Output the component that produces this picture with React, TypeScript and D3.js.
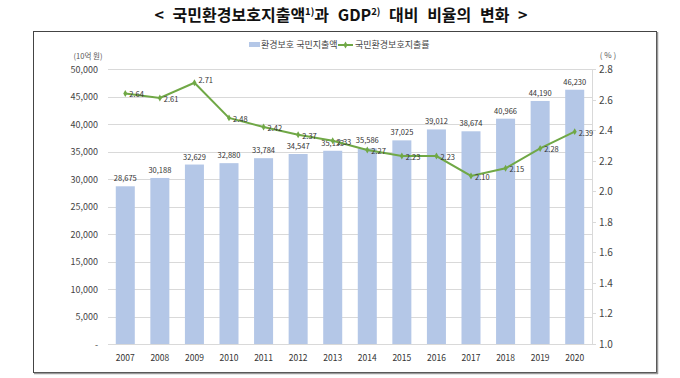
import React from "react";
import * as d3 from "d3";

const years = ["2007","2008","2009","2010","2011","2012","2013","2014","2015","2016","2017","2018","2019","2020"];
const spending = [28675, 30188, 32629, 32880, 33784, 34547, 35133, 35586, 37025, 39012, 38674, 40966, 44190, 46230];
const ratio = [2.64, 2.61, 2.71, 2.48, 2.42, 2.37, 2.33, 2.27, 2.23, 2.23, 2.10, 2.15, 2.28, 2.39];
const leftTicks = [0, 5000, 10000, 15000, 20000, 25000, 30000, 35000, 40000, 45000, 50000];
const rightTicks = [1.0, 1.2, 1.4, 1.6, 1.8, 2.0, 2.2, 2.4, 2.6, 2.8];

const W = 680, H = 378;
const FONT = "'Noto Sans CJK KR', 'Noto Sans', sans-serif";
const BAR = "#b4c7e7";
const LINE = "#70a846";

export default function App() {
  const plotL = 108, plotR = 592, plotT = 69, plotB = 344;
  const x = d3.scaleBand<string>().domain(years).range([plotL, plotR]).paddingInner(0.45).paddingOuter(0.225);
  const yL = d3.scaleLinear().domain([0, 50000]).range([plotB, plotT]);
  const yR = d3.scaleLinear().domain([1.0, 2.8]).range([plotB, plotT]);
  const fmt = d3.format(",");
  const cx = (y: string) => (x(y) as number) + x.bandwidth() / 2;
  const lineGen = d3.line<number>().x((_, i) => cx(years[i])).y(d => yR(d));

  return (
    <div style={{ position: "fixed", left: 0, top: 0, width: W, height: H, background: "#fff" }}>
      <svg width={W} height={H} style={{ display: "block", fontFamily: FONT }}>
        <rect x={0} y={0} width={W} height={H} fill="#fff" />
        {/* title */}
        <text x={341} y={21} textAnchor="middle" fontSize={16} fontWeight={700} fill="#111" wordSpacing={5}>
          {"<  국민환경보호지출액"}
          <tspan fontSize={9.5} dy={-6}>1)</tspan>
          <tspan dy={6}>과 GDP</tspan>
          <tspan fontSize={9.5} dy={-6}>2)</tspan>
          <tspan dy={6}>{" 대비 비율의 변화  >"}</tspan>
        </text>
        {/* frame */}
        <rect x={33.5} y={31.5} width={623} height={341} fill="none" stroke="#444" strokeWidth={1} />
        <line x1={657.5} y1={32} x2={657.5} y2={374} stroke="#999" strokeWidth={1.5} />
        <line x1={34} y1={373.5} x2={658} y2={373.5} stroke="#999" strokeWidth={1.5} />

        {/* legend */}
        <rect x={249} y={42} width={11} height={5} fill={BAR} />
        <text x={261} y={48} fontSize={9} fill="#444">환경보호 국민지출액</text>
        <line x1={338} y1={45} x2={353} y2={45} stroke={LINE} strokeWidth={2} />
        <path d={d3.symbol(d3.symbolDiamond, 14)() as string} transform="translate(345.5,45)" fill={LINE} />
        <text x={355} y={48} fontSize={9} fill="#444">국민환경보호지출률</text>

        {/* units */}
        <text x={88} y={59} textAnchor="middle" fontSize={7.5} fill="#555">(10억 원)</text>
        <text x={608} y={58} textAnchor="middle" fontSize={8} fill="#555">( % )</text>

        {/* gridlines */}
        {leftTicks.map(t => (
          <line key={t} x1={plotL} x2={plotR} y1={Math.round(yL(t)) + 0.5} y2={Math.round(yL(t)) + 0.5} stroke="#d9d9d9" strokeWidth={1} />
        ))}
        {/* right axis line */}
        <line x1={plotR + 0.5} x2={plotR + 0.5} y1={plotT} y2={plotB} stroke="#d9d9d9" />
        {rightTicks.map(t => (
          <g key={t}>
            <line x1={plotR} x2={plotR + 4} y1={Math.round(yR(t)) + 0.5} y2={Math.round(yR(t)) + 0.5} stroke="#d9d9d9" />
            <text x={plotR + 7} y={yR(t) + 4} fontSize={10} fill="#444">{t.toFixed(1)}</text>
          </g>
        ))}
        {/* left axis labels */}
        {leftTicks.map(t => (
          <text key={t} x={98} y={yL(t) + 3.5} textAnchor="end" fontSize={9} fill="#444">{t === 0 ? "-" : fmt(t)}</text>
        ))}
        {/* bars */}
        {spending.map((v, i) => (
          <rect key={years[i]} x={x(years[i])} y={yL(v)} width={x.bandwidth()} height={plotB - yL(v)} fill={BAR} />
        ))}
        {spending.map((v, i) => (
          <text key={"bl" + i} x={cx(years[i])} y={yL(v) - 5} textAnchor="middle" fontSize={7.5} fill="#333">{fmt(v)}</text>
        ))}
        {/* x labels */}
        {years.map(y => (
          <text key={y} x={cx(y)} y={361} textAnchor="middle" fontSize={8.5} fill="#333">{y}</text>
        ))}
        {/* line */}
        <path d={lineGen(ratio) as string} fill="none" stroke={LINE} strokeWidth={2} />
        {ratio.map((v, i) => (
          <path key={"m" + i} d={d3.symbol(d3.symbolDiamond, 14)() as string} transform={`translate(${cx(years[i])},${yR(v)})`} fill={LINE} />
        ))}
        {ratio.map((v, i) => (
          <text key={"ll" + i} x={cx(years[i]) + 4} y={yR(v) + (i === 2 ? 0 : 4)} fontSize={7.5} fill="#333">{v.toFixed(2)}</text>
        ))}
      </svg>
    </div>
  );
}
